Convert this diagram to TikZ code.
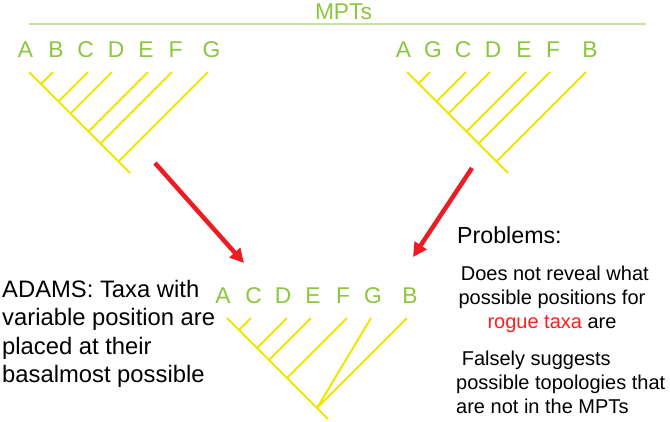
\documentclass[tikz,border=0pt]{standalone}
\usepackage{fontspec}
\setmainfont{Liberation Sans}
\usetikzlibrary{arrows.meta}
\definecolor{taxgreen}{RGB}{140,198,63}
\definecolor{rulegreen}{RGB}{196,228,163}
\definecolor{treeyellow}{RGB}{242,230,0}
\definecolor{arrowred}{RGB}{237,28,36}
\definecolor{roguered}{RGB}{255,30,30}
\tikzset{
  taxon/.style={inner sep=0pt, anchor=base, text=taxgreen, font=\fontsize{22.8}{27}\selectfont},
  branch/.style={draw=treeyellow, line width=2pt},
  bigarrow/.style={draw=arrowred, line width=4.5pt, -{Triangle[length=14pt,width=14pt]}},
  bodytext/.style={inner sep=0pt, font=\fontsize{20}{24}\selectfont},
}
\begin{document}
\begin{tikzpicture}[x=1pt,y=-1pt]
\useasboundingbox (0,0) rectangle (670,421);
% title and rule
\coordinate (ruleL) at (29,24);
\coordinate (ruleR) at (646,24);
\draw[rulegreen, line width=1.5pt] (ruleL) -- (ruleR);
\node[taxon] (mpts) at (343.5,19) {MPTs};

% ---------- left MPT ----------
\node[taxon] (lA) at (25.5,57) {A};
\node[taxon] (lB) at (56,57) {B};
\node[taxon] (lC) at (85.5,57) {C};
\node[taxon] (lD) at (116,57) {D};
\node[taxon] (lE) at (146,57) {E};
\node[taxon] (lF) at (175.5,57) {F};
\node[taxon] (lG) at (211.5,57) {G};
\coordinate (ltA) at (29,72);
\coordinate (lroot) at (130,173);
\path[branch] (ltA) -- (lroot);
\foreach \x in {53,88,112,148,172,208}
  \path[branch] (\x,72) -- ({(29+\x)/2},{72+(\x-29)/2});

% ---------- right MPT ----------
\node[taxon] (rA) at (403.5,57) {A};
\node[taxon] (rG) at (433,57) {G};
\node[taxon] (rC) at (463,57) {C};
\node[taxon] (rD) at (493,57) {D};
\node[taxon] (rE) at (524,57) {E};
\node[taxon] (rF) at (553,57) {F};
\node[taxon] (rB) at (590,57) {B};
\coordinate (rtA) at (407,72);
\coordinate (rroot) at (508,173);
\path[branch] (rtA) -- (rroot);
\foreach \x in {430,466,490,526,550,586}
  \path[branch] (\x,72) -- ({(407+\x)/2},{72+(\x-407)/2});

% ---------- Adams consensus ----------
\node[taxon] (cA) at (223,303) {A};
\node[taxon] (cC) at (253.5,303) {C};
\node[taxon] (cD) at (283,303) {D};
\node[taxon] (cE) at (313,303) {E};
\node[taxon] (cF) at (343,303) {F};
\node[taxon] (cG) at (373,303) {G};
\node[taxon] (cB) at (410,303) {B};
\coordinate (ctA) at (227,318);
\coordinate (croot) at (328,419);
\coordinate (cGB) at (317,408);
\path[branch] (ctA) -- (croot);
\foreach \x in {251,287,311,347,407}
  \path[branch] (\x,318) -- ({(227+\x)/2},{318+(\x-227)/2});
\coordinate (ctG) at (371,318);
\path[branch] (ctG) -- (cGB);

% ---------- arrows ----------
\coordinate (a1s) at (155,163);
\coordinate (a1e) at (244,263);
\coordinate (a2s) at (472,168);
\coordinate (a2e) at (413,257);
\path[bigarrow] (a1s) -- (a1e);
\path[bigarrow] (a2s) -- (a2e);

% ---------- texts ----------
\node[inner sep=0pt, anchor=north west, align=left,
      font=\fontsize{23.8}{28.3}\selectfont] (adams) at (2,280)
  {ADAMS: Taxa with\\variable position are\\placed at their\\basalmost possible};
\node[inner sep=0pt, anchor=base west, font=\fontsize{23.2}{28}\selectfont] (problems) at (457,243) {Problems:};
\node[bodytext, anchor=north, align=center] (p1) at (552,266)
  {\hspace*{0.28em}Does not reveal what\\possible positions for\\\textcolor{roguered}{rogue taxa} are};
\node[bodytext, anchor=north west, align=left] (p2) at (456,351)
  {\hspace*{0.28em}Falsely suggests\\possible topologies that\\are not in the MPTs};
\end{tikzpicture}
\end{document}
